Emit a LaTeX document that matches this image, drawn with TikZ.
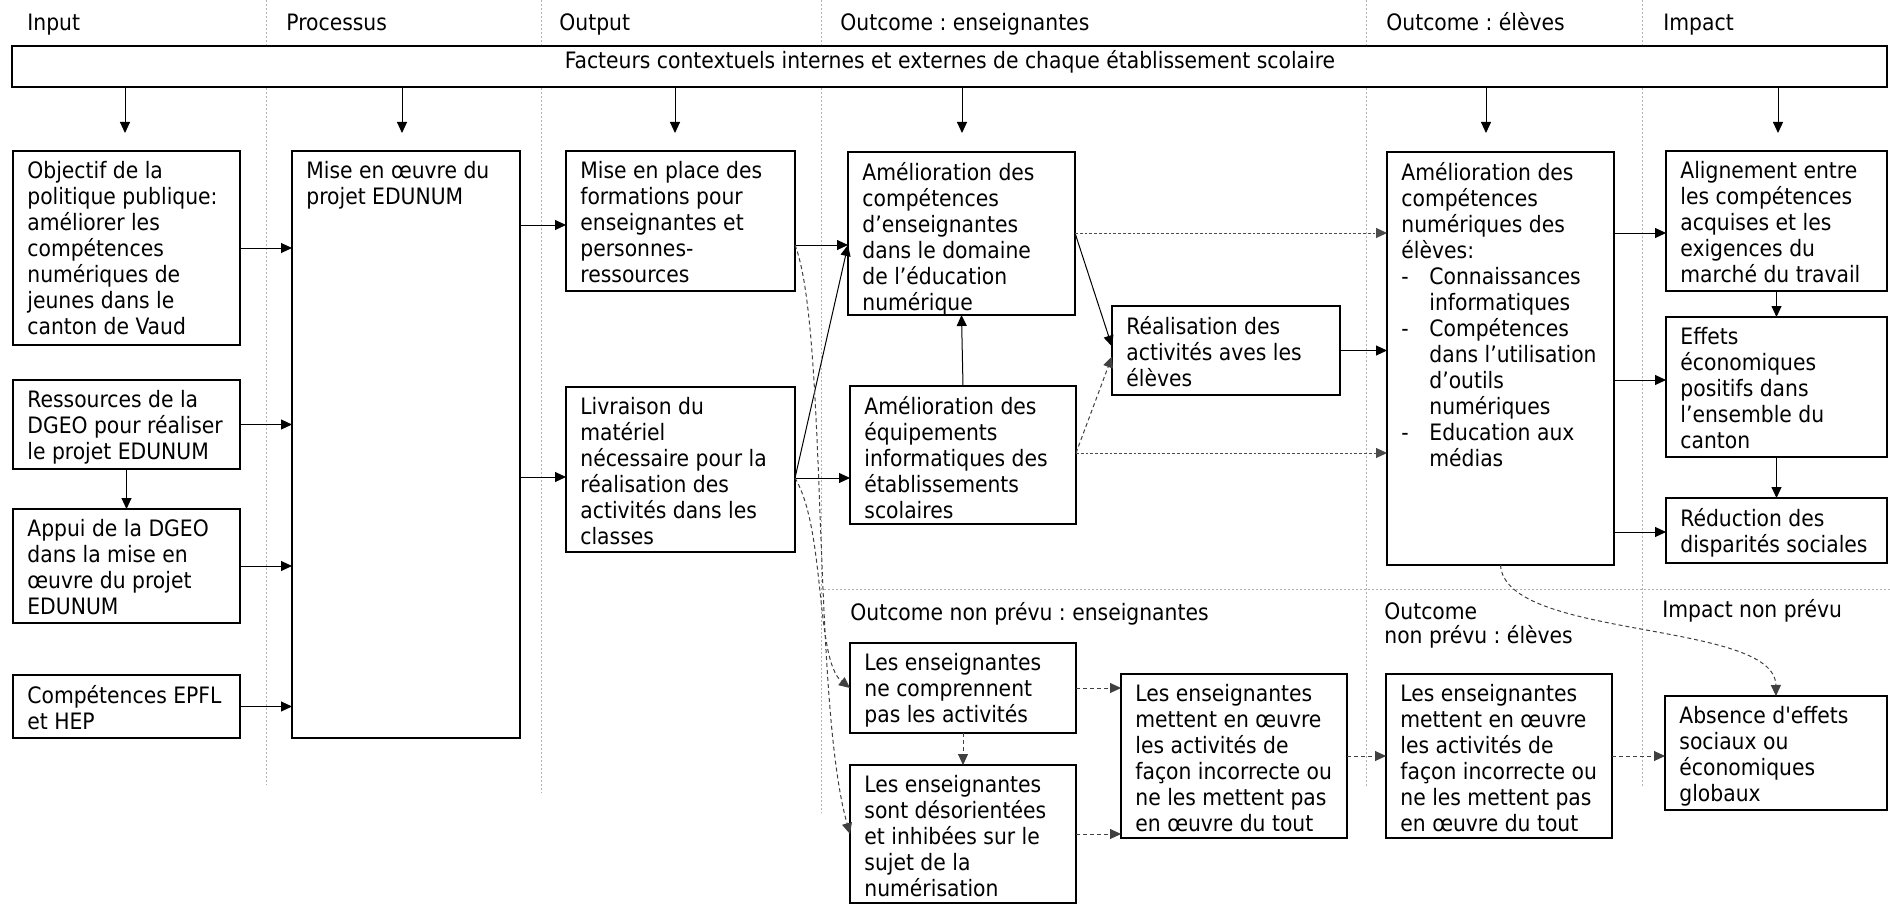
\documentclass[tikz,border=0pt]{standalone}
\usepackage{fontspec}
\setmainfont{DejaVu Sans Condensed}[Ligatures=TeXOff]
\usetikzlibrary{arrows.meta,fit,calc}
\frenchspacing
\newcommand\mybox[6]{%
  \node[box, fit={(#2,#3) (#4,#5)}] (#1) {};
  \node[txt] (#1-t) at ($(#1.north west)+(14,10)$) {#6};
}
\newcommand\ind{\hspace*{14pt}}
\newcommand\itm{\makebox[14pt][l]{-}}
\begin{document}
\begin{tikzpicture}[x=0.5pt,y=-0.5pt,
  box/.style={draw=black, line width=1pt, fill=white, inner sep=0pt, outer sep=0pt},
  txt/.style={inner sep=0pt, align=left, anchor=north west, font=\fontsize{11.3}{13}\selectfont\frenchspacing, execute at begin node=\strut},
  lbl/.style={inner sep=0pt, anchor=base west, font=\fontsize{11.3}{13}\selectfont\frenchspacing},
  arr/.style={line width=0.5pt, -{Triangle[length=5.5pt,width=5pt]}},
  darr/.style={arr, draw=black!75, dash pattern=on 2pt off 1.5pt},
  dotarr/.style={arr, draw=black!70, dash pattern=on 1.4pt off 1pt},
  sep/.style={draw=black!30, line width=0.4pt, dash pattern=on 1pt off 1pt},
]
\useasboundingbox (0,0) rectangle (1890,904);

% separators
\draw[sep] (266,0) -- (266,785);
\draw[sep] (541,0) -- (541,793);
\draw[sep] (821,0) -- (821,813);
\draw[sep] (1366,0) -- (1366,788);
\draw[sep] (1642,0) -- (1642,788);
\draw[sep] (824,589) -- (1890,589);

% headers
\node[lbl] (h1) at (27,31) {Input};
\node[lbl] (h2) at (286,31) {Processus};
\node[lbl] (h3) at (559,31) {Output};
\node[lbl] (h4) at (840,31) {Outcome : enseignantes};
\node[lbl] (h5) at (1386,31) {Outcome : élèves};
\node[lbl] (h6) at (1663,31) {Impact};

% banner
\node[box, fit={(12,46) (1887,87)}] (banner) {};
\node[lbl, anchor=base] (banner-t) at (950,69) {Facteurs contextuels internes et externes de chaque établissement scolaire};

% boxes
\mybox{obj}{13}{151}{240}{345}{Objectif de la\\politique publique:\\améliorer les\\compétences\\numériques de\\jeunes dans le\\canton de Vaud}
\mybox{res}{13}{380}{240}{469}{Ressources de la\\DGEO pour réaliser\\le projet EDUNUM}
\mybox{app}{13}{509}{240}{623}{Appui de la DGEO\\dans la mise en\\œuvre du projet\\EDUNUM}
\mybox{epfl}{13}{675}{240}{738}{Compétences EPFL\\et HEP}
\mybox{proc}{292}{151}{520}{738}{Mise en œuvre du\\projet EDUNUM}
\mybox{mise}{566}{151}{795}{291}{Mise en place des\\formations pour\\enseignantes et\\personnes-\\ressources}
\mybox{liv}{566}{387}{795}{552}{Livraison du\\matériel\\nécessaire pour la\\réalisation des\\activités dans les\\classes}
\mybox{comp}{848}{152}{1075}{315}{Amélioration des\\compétences\\d’enseignantes\\dans le domaine\\de l’éducation\\numérique}
\mybox{equip}{850}{386}{1076}{524}{Amélioration des\\équipements\\informatiques des\\établissements\\scolaires}
\mybox{real}{1112}{306}{1340}{395}{Réalisation des\\activités aves les\\élèves}
\mybox{elev}{1387}{152}{1614}{565}{Amélioration des\\compétences\\numériques des\\élèves:\\\itm Connaissances\\\ind informatiques\\\itm Compétences\\\ind dans l’utilisation\\\ind d’outils\\\ind numériques\\\itm Education aux\\\ind médias}
\mybox{align}{1666}{151}{1887}{291}{Alignement entre\\les compétences\\acquises et les\\exigences du\\marché du travail}
\mybox{eff}{1666}{317}{1887}{457}{Effets\\économiques\\positifs dans\\l’ensemble du\\canton}
\mybox{red}{1666}{498}{1887}{563}{Réduction des\\disparités sociales}
\mybox{necomp}{850}{643}{1076}{733}{Les enseignantes\\ne comprennent\\pas les activités}
\mybox{desor}{850}{765}{1076}{903}{Les enseignantes\\sont désorientées\\et inhibées sur le\\sujet de la\\numérisation}
\mybox{met1}{1121}{674}{1347}{838}{Les enseignantes\\mettent en œuvre\\les activités de\\façon incorrecte ou\\ne les mettent pas\\en œuvre du tout}
\mybox{met2}{1386}{674}{1612}{838}{Les enseignantes\\mettent en œuvre\\les activités de\\façon incorrecte ou\\ne les mettent pas\\en œuvre du tout}
\mybox{abs}{1665}{696}{1887}{810}{Absence d'effets\\sociaux ou\\économiques\\globaux}

% lower labels
\node[lbl] (l1) at (850,620) {Outcome non prévu : enseignantes};
\node[lbl] (l2) at (1384,619) {Outcome};
\node[lbl] (l3) at (1384,643) {non prévu : élèves};
\node[lbl] (l4) at (1662,617) {Impact non prévu};

% banner arrows
\foreach \n/\x in {a1/125,a2/402,a3/675,a4/962,a5/1486,a6/1778}{
  \coordinate (\n) at (\x,133);
  \draw[arr] (banner.south -| \n) -- (\n);
}

% input -> processus
\draw[arr] (obj.east) -- (obj.east -| proc.west);
\draw[arr] (res.east) -- (res.east -| proc.west);
\draw[arr] (app.east) -- (app.east -| proc.west);
\draw[arr] (epfl.east) -- (epfl.east -| proc.west);
\draw[arr] (res.south) -- (res.south |- app.north);

% processus -> output
\coordinate (pm) at ($(proc.north east)+(0,74)$);
\draw[arr] (pm) -- (pm -| mise.west);
\coordinate (pl) at ($(proc.north east)+(0,326)$);
\draw[arr] (pl) -- (pl -| liv.west);

% output -> outcome
\coordinate (mA) at ($(mise.north east)+(0,94)$);
\coordinate (cA) at ($(comp.north west)+(0,93)$);
\draw[arr] (mA) -- (cA);
\coordinate (lA) at ($(liv.north east)+(0,91)$);
\draw[arr] (lA) -- (cA);
\draw[arr] (lA) -- (lA -| equip.west);
\draw[arr] (equip.north) -- (comp.south);

% unintended dashed curves
\draw[darr] (mA) .. controls (828,330) and (812,700) .. (desor.west);
\draw[darr] (lA) .. controls (826,530) and (815,660) .. (necomp.west);

% outcome enseignantes -> realisation / eleves
\coordinate (cB) at ($(comp.north east)+(0,81)$);
\coordinate (eB) at ($(equip.north east)+(0,67)$);
\draw[arr] (cB) -- ($(real.west)+(0,-4)$);
\draw[darr] (eB) -- ($(real.west)+(0,6)$);
\draw[dotarr] (cB) -- (cB -| elev.west);
\draw[dotarr] (eB) -- (eB -| elev.west);
\draw[arr] (real.east) -- (real.east -| elev.west);

% eleves -> impact
\coordinate (v1) at ($(elev.north east)+(0,81)$);
\coordinate (v2) at ($(elev.north east)+(0,228)$);
\coordinate (v3) at ($(elev.north east)+(0,380)$);
\draw[arr] (v1) -- (v1 -| align.west);
\draw[arr] (v2) -- (v2 -| eff.west);
\draw[arr] (v3) -- (v3 -| red.west);
\draw[arr] (align.south) -- (eff.north);
\draw[arr] (eff.south) -- (red.north);

% unintended lower chain
\draw[darr] (necomp.south) -- (desor.north);
\draw[darr] (necomp.east) -- (necomp.east -| met1.west);
\draw[darr] (desor.east) -- (desor.east -| met1.west);
\draw[darr] (met1.east) -- (met1.east -| met2.west);
\draw[darr] (met2.east) -- (met2.east -| abs.west);
\draw[darr] (elev.south) .. controls (1505,640) and (1775,620) .. (abs.north);
\end{tikzpicture}
\end{document}
